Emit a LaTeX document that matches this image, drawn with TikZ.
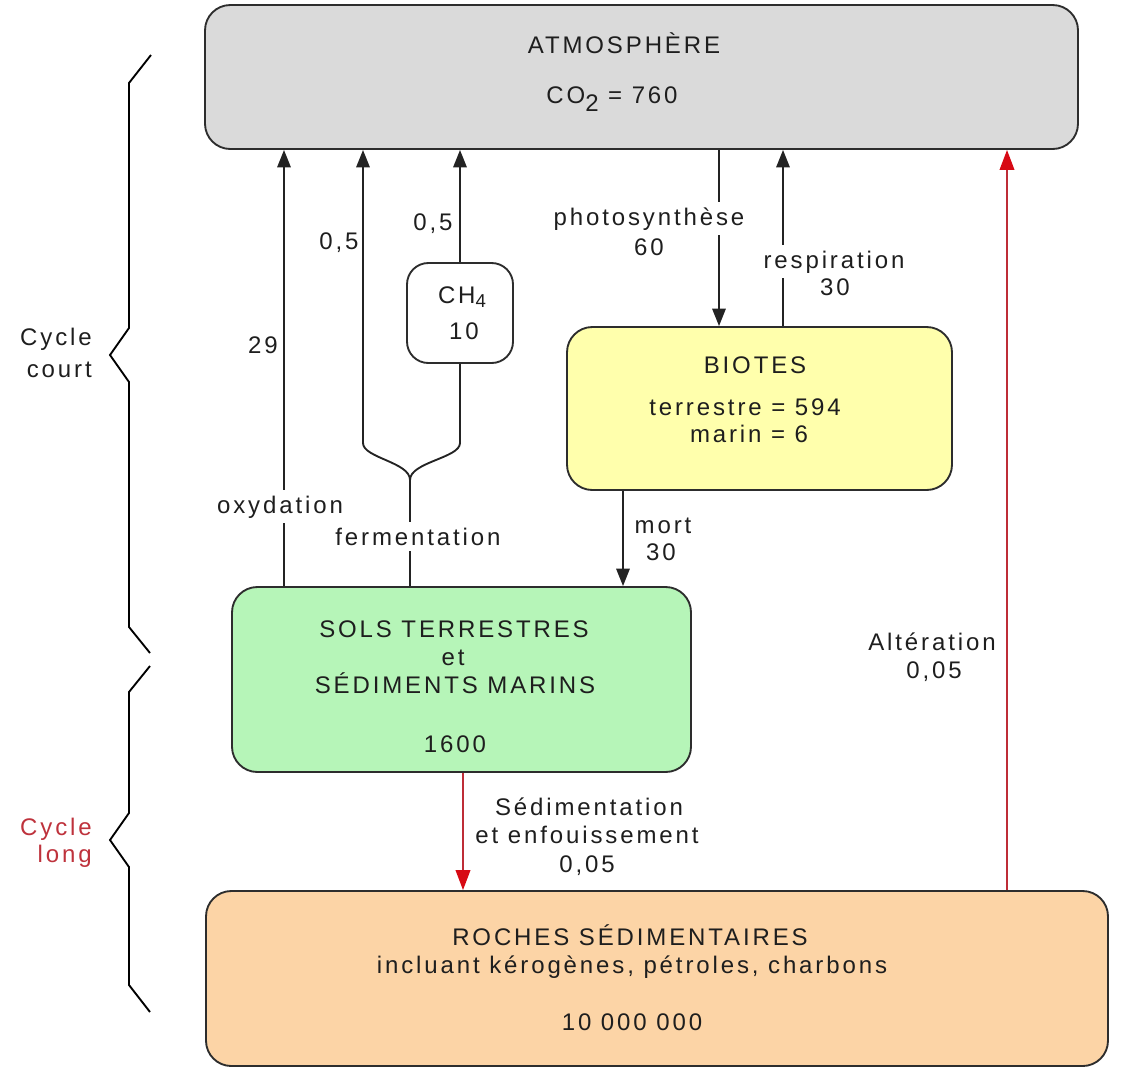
\documentclass[tikz,border=0pt]{standalone}
\usepackage{fontspec}
\setmainfont{Liberation Sans}[LetterSpace=12]
\usetikzlibrary{arrows.meta,fit}
\definecolor{atmfill}{RGB}{218,218,218}
\definecolor{biofill}{RGB}{255,255,172}
\definecolor{solfill}{RGB}{182,245,184}
\definecolor{rocfill}{RGB}{252,212,166}
\definecolor{bordercol}{RGB}{45,45,45}
\definecolor{linecol}{RGB}{35,35,35}
\definecolor{textcol}{RGB}{30,30,30}
\definecolor{redline}{RGB}{190,45,55}
\definecolor{redhead}{RGB}{215,10,20}
\definecolor{redtext}{RGB}{190,50,60}
\begin{document}
\begin{tikzpicture}[x=0.75pt,y=-0.75pt,
  box/.style={draw=bordercol, line width=1.4pt, rounded corners=19pt, inner sep=0pt},
  txt/.style={anchor=base, inner sep=0pt, font=\fontsize{18}{21}\selectfont, text=textcol},
  lbl/.style={txt, fill=white, inner xsep=2pt, inner ysep=4pt},
  arr/.style={line width=1.4pt, draw=linecol, -{Triangle[length=13pt,width=10pt]}},
  plain/.style={line width=1.4pt, draw=linecol},
  redarr/.style={line width=1.2pt, draw=redline, -{Triangle[length=15pt,width=11pt,color=redhead]}},
  bracestyle/.style={line width=1.4pt, draw=black, line join=miter}]
\useasboundingbox (0,0) rectangle (1123,1072);

% boxes
\node[box, fill=atmfill, fit={(205,5) (1078,149)}] (atm) {};
\node[box, fill=white, rounded corners=16pt, fit={(407,263) (513,363)}] (ch4) {};
\node[box, fill=biofill, fit={(567,327) (952,490)}] (bio) {};
\node[box, fill=solfill, fit={(232,587) (691,772)}] (sols) {};
\node[box, fill=rocfill, fit={(206,891) (1108,1066)}] (roc) {};

% box texts
\node[txt] (tatm) at (624,53) {ATMOSPHÈRE};
\node[txt] (tco2) at (612,103) {CO\raisebox{-6pt}{2} = 760};
\node[txt] (tch4) at (462,303) {CH\raisebox{-3pt}{\fontsize{14}{14}\selectfont 4}};
\node[txt] (tch4v) at (464,339) {10};
\node[txt] (tbio) at (755,373) {BIOTES};
\node[txt] (tbio1) at (745,415) {terrestre = 594};
\node[txt] (tbio2) at (749,442) {marin = 6};
\node[txt] (tsol1) at (454,637) {SOLS TERRESTRES};
\node[txt] (tsol2) at (453,665) {et};
\node[txt] (tsol3) at (455,693) {SÉDIMENTS MARINS};
\node[txt] (tsol4) at (455,752) {1600};
\node[txt] (troc1) at (630,945) {ROCHES SÉDIMENTAIRES};
\node[txt] (troc2) at (632,973) {incluant kérogènes, pétroles, charbons};
\node[txt] (troc3) at (632,1030) {10 000 000};

% coordinates for connectors
\coordinate (xox) at (284,0);
\coordinate (fork) at (410,480);
\coordinate (lb) at (363,443);
\coordinate (rb) at (460,443);
\coordinate (xph) at (719,0);
\coordinate (xre) at (783,0);
\coordinate (xmo) at (623,0);
\coordinate (xse) at (463,0);
\coordinate (xal) at (1007,0);

% oxydation
\draw[arr] (sols.north -| xox) -- (atm.south -| xox);
% fermentation fork
\draw[plain] (sols.north -| fork) -- (fork);
\draw[arr] (fork) .. controls +(0,-18) and +(0,15) .. (lb) -- (lb |- atm.south);
\draw[plain] (fork) .. controls +(0,-18) and +(0,15) .. (rb) -- (ch4.south);
\draw[arr] (ch4.north) -- (ch4.north |- atm.south);
% photosynthese / respiration
\draw[arr] (atm.south -| xph) -- (bio.north -| xph);
\draw[arr] (bio.north -| xre) -- (atm.south -| xre);
% mort
\draw[arr] (bio.south -| xmo) -- (sols.north -| xmo);
% long cycle
\draw[redarr] (sols.south -| xse) -- (roc.north -| xse);
\draw[redarr] (roc.north -| xal) -- (atm.south -| xal);

% connector labels
\node[txt] (l29) at (263,353) {29};
\node[txt] (l05a) at (339,249) {0,5};
\node[txt] (l05b) at (433,230) {0,5};
\node[lbl] (lox) at (280,513) {oxydation};
\node[lbl] (lfe) at (418,545) {fermentation};
\node[lbl] (lph) at (649,225) {photosynthèse};
\node[txt] (lph2) at (649,255) {60};
\node[lbl] (lre) at (834,268) {respiration};
\node[txt] (lre2) at (835,295) {30};
\node[txt] (lmo) at (663,533) {mort};
\node[txt] (lmo2) at (661,560) {30};
\node[txt] (lse1) at (589,815) {Sédimentation};
\node[txt] (lse2) at (587,843) {et enfouissement};
\node[txt] (lse3) at (587,872) {0,05};
\node[txt] (lal1) at (932,650) {Altération};
\node[txt] (lal2) at (934,678) {0,05};

% braces
\draw[bracestyle] (151,55) -- (129,83) -- (129,328) -- (110,355) -- (129,382) -- (129,627) -- (150,653);
\draw[bracestyle] (150,666) -- (129,692) -- (129,813) -- (110,840) -- (129,867) -- (129,985) -- (150,1012);
\node[txt, anchor=base east] (cc1) at (92,345) {Cycle};
\node[txt, anchor=base east] (cc2) at (92,377) {court};
\node[txt, anchor=base east, text=redtext] (cl1) at (92,835) {Cycle};
\node[txt, anchor=base east, text=redtext] (cl2) at (92,862) {long};
\end{tikzpicture}
\end{document}
